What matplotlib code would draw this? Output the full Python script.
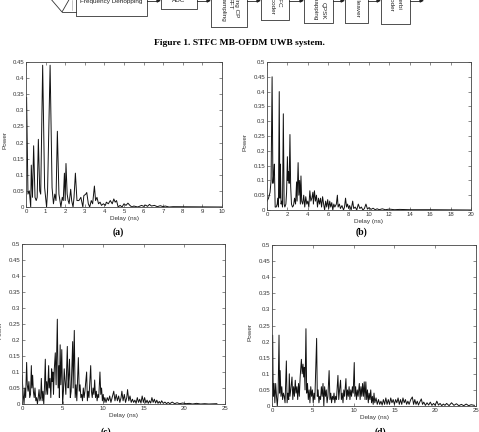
import numpy as np
import matplotlib
matplotlib.use("Agg")
import matplotlib.pyplot as plt
from matplotlib.patches import Rectangle, Polygon
from matplotlib.lines import Line2D

plt.rcParams['font.family'] = ['Liberation Sans', 'DejaVu Sans']

# ---- data: (delay ns, power) vertices ----
delay_a = [0.00, 0.03, 0.10, 0.17, 0.24, 0.27, 0.33, 0.39, 0.46, 0.52, 0.57, 0.63, 0.70, 0.75,
           0.85, 0.95, 1.00, 1.05, 1.10, 1.23, 1.33, 1.40, 1.47, 1.53, 1.60, 1.68, 1.78, 1.85,
           1.90, 1.96, 2.00, 2.04, 2.10, 2.15, 2.20, 2.28, 2.33, 2.40, 2.45, 2.52, 2.60, 2.70,
           2.80, 2.90, 2.95, 3.05, 3.10, 3.18, 3.25, 3.33, 3.40, 3.49, 3.55, 3.62, 3.70, 3.78,
           3.85, 3.95, 4.05, 4.10, 4.20, 4.30, 4.40, 4.48, 4.55, 4.62, 4.70, 4.80, 4.90, 5.00,
           5.10, 5.20, 5.30, 5.40, 5.50, 5.70, 5.90, 6.00, 6.10, 6.20, 6.30, 6.40, 6.55, 6.70,
           6.85, 7.00, 7.10, 7.30, 7.50, 10.0]
power_a = [0.30, 0.34, 0.04, 0.05, 0.00, 0.13, 0.03, 0.19, 0.03, 0.02, 0.03, 0.21, 0.05, 0.04,
           0.44, 0.06, 0.03, 0.00, 0.05, 0.44, 0.06, 0.01, 0.04, 0.02, 0.235, 0.04, 0.00, 0.03,
           0.02, 0.105, 0.02, 0.135, 0.04, 0.02, 0.01, 0.055, 0.02, 0.00, 0.03, 0.105, 0.02, 0.02,
           0.03, 0.00, 0.035, 0.04, 0.045, 0.01, 0.00, 0.02, 0.01, 0.065, 0.02, 0.03, 0.01, 0.015,
           0.005, 0.01, 0.005, 0.015, 0.01, 0.02, 0.01, 0.025, 0.015, 0.02, 0.0, 0.005, 0.0, 0.01,
           0.005, 0.012, 0.005, 0.0, 0.003, 0.0, 0.005, 0.002, 0.006, 0.002, 0.008, 0.003, 0.005, 0.001,
           0.004, 0.001, 0.003, 0.0, 0.001, 0.0]

delay_b = [0.0, 0.15, 0.3, 0.4, 0.5, 0.58, 0.65, 0.72, 0.8, 0.9, 1.0, 1.05, 1.12, 1.2, 1.26, 1.31,
           1.38, 1.45, 1.52, 1.6, 1.68, 1.75, 1.85, 1.92, 2.0, 2.05, 2.12, 2.17, 2.25, 2.32, 2.4,
           2.5, 2.6, 2.7, 2.8, 2.9, 2.95, 3.05, 3.12, 3.2, 3.27, 3.33, 3.4, 3.5, 3.6, 3.7, 3.8,
           3.9, 4.0, 4.1, 4.2, 4.3, 4.4, 4.5, 4.55, 4.65, 4.75, 4.85, 4.95, 5.05, 5.15, 5.25, 5.35,
           5.45, 5.55, 5.65, 5.75, 5.85, 5.95, 6.05, 6.15, 6.25, 6.35, 6.45, 6.55, 6.65, 6.8, 6.9,
           6.97, 7.1, 7.2, 7.35, 7.5, 7.6, 7.7, 7.8, 7.9, 8.0, 8.1, 8.25, 8.4, 8.5, 8.65, 8.8,
           8.95, 9.1, 9.25, 9.4, 9.55, 9.7, 9.85, 10.0, 10.2, 10.4, 10.6, 10.8, 11.0, 11.3, 11.6,
           12.0, 12.5, 13.0, 14.0, 16.0, 20.0]
power_b = [0.03, 0.04, 0.06, 0.10, 0.45, 0.09, 0.12, 0.155, 0.01, 0.01, 0.02, 0.04, 0.01, 0.40, 0.04, 0.155,
           0.02, 0.03, 0.01, 0.325, 0.02, 0.01, 0.02, 0.06, 0.18, 0.10, 0.13, 0.09, 0.255, 0.08, 0.02,
           0.01, 0.015, 0.04, 0.02, 0.095, 0.03, 0.16, 0.05, 0.10, 0.02, 0.115, 0.03, 0.02, 0.05, 0.01, 0.045,
           0.02, 0.03, 0.01, 0.065, 0.03, 0.04, 0.06, 0.02, 0.065, 0.03, 0.05, 0.01, 0.04, 0.02, 0.04, 0.01,
           0.045, 0.02, 0.0, 0.03, 0.01, 0.035, 0.005, 0.03, 0.01, 0.025, 0.0, 0.02, 0.01, 0.02, 0.05,
           0.01, 0.02, 0.005, 0.015, 0.0, 0.01, 0.04, 0.01, 0.02, 0.005, 0.015, 0.0, 0.03, 0.005, 0.01, 0.0,
           0.02, 0.005, 0.01, 0.0, 0.005, 0.02, 0.003, 0.008, 0.002, 0.006, 0.001, 0.004, 0.001, 0.004, 0.001,
           0.003, 0.001, 0.002, 0.001, 0.001, 0.0]

delay_c = [0.00, 0.15, 0.25, 0.35, 0.45, 0.57, 0.65, 0.75, 0.85, 0.95, 1.05, 1.15, 1.22, 1.31, 1.40,
           1.50, 1.60, 1.70, 1.80, 1.90, 2.00, 2.10, 2.20, 2.30, 2.38, 2.48, 2.58, 2.68, 2.78, 2.87,
           2.95, 3.05, 3.15, 3.28, 3.35, 3.45, 3.55, 3.65, 3.72, 3.80, 3.88, 3.98, 4.10, 4.20, 4.35,
           4.45, 4.55, 4.60, 4.70, 4.78, 4.90, 5.00, 5.10, 5.20, 5.30, 5.40, 5.58, 5.68, 5.75, 5.85,
           5.95, 6.05, 6.24, 6.30, 6.44, 6.55, 6.65, 6.75, 6.94, 7.05, 7.15, 7.25, 7.35, 7.45, 7.55,
           7.65, 7.75, 7.96, 8.05, 8.15, 8.25, 8.46, 8.55, 8.65, 8.75, 8.85, 8.95, 9.05, 9.15, 9.25,
           9.35, 9.45, 9.60, 9.70, 9.80, 9.90, 10.0, 10.1, 10.2, 10.35, 10.5, 10.65, 10.8, 10.95, 11.1,
           11.3, 11.45, 11.6, 11.75, 11.9, 12.05, 12.2, 12.3, 12.45, 12.6, 12.75, 12.9, 13.0, 13.15, 13.3,
           13.45, 13.6, 13.75, 13.9, 14.05, 14.2, 14.35, 14.5, 14.65, 14.8, 14.95, 15.1, 15.25, 15.4, 15.55,
           15.7, 15.85, 16.0, 16.15, 16.3, 16.45, 16.6, 16.75, 16.9, 17.05, 17.2, 17.4, 17.6, 17.8, 18.0,
           18.2, 18.5, 18.8, 19.1, 19.4, 19.8, 20.2, 20.6, 21.0, 21.5, 22.0, 22.5, 23.0, 24.0]
power_c = [0.09, 0.03, 0.00, 0.05, 0.02, 0.13, 0.06, 0.04, 0.07, 0.02, 0.03, 0.12, 0.05, 0.09, 0.04,
           0.02, 0.05, 0.01, 0.02, 0.00, 0.02, 0.045, 0.01, 0.02, 0.08, 0.01, 0.04, 0.00, 0.06, 0.14,
           0.03, 0.07, 0.03, 0.12, 0.05, 0.08, 0.02, 0.11, 0.07, 0.10, 0.03, 0.11, 0.16, 0.06, 0.265,
           0.05, 0.12, 0.02, 0.185, 0.06, 0.17, 0.00, 0.04, 0.11, 0.07, 0.03, 0.18, 0.05, 0.08, 0.14,
           0.02, 0.04, 0.195, 0.05, 0.23, 0.02, 0.06, 0.01, 0.145, 0.04, 0.06, 0.02, 0.03, 0.01, 0.05,
           0.02, 0.04, 0.10, 0.01, 0.04, 0.02, 0.12, 0.04, 0.02, 0.05, 0.03, 0.075, 0.02, 0.04, 0.01,
           0.03, 0.02, 0.10, 0.03, 0.05, 0.01, 0.03, 0.005, 0.02, 0.005, 0.02, 0.01, 0.025, 0.005, 0.02,
           0.04, 0.01, 0.03, 0.01, 0.025, 0.005, 0.02, 0.04, 0.01, 0.03, 0.005, 0.02, 0.045, 0.01, 0.025,
           0.005, 0.015, 0.005, 0.012, 0.002, 0.02, 0.005, 0.015, 0.003, 0.025, 0.005, 0.02, 0.003, 0.012, 0.002,
           0.01, 0.003, 0.02, 0.005, 0.015, 0.003, 0.012, 0.002, 0.008, 0.002, 0.01, 0.002, 0.006, 0.001, 0.005,
           0.001, 0.006, 0.001, 0.004, 0.001, 0.003, 0.001, 0.002, 0.0, 0.002, 0.0, 0.001, 0.0, 0.001]

delay_d = [0.00, 0.08, 0.15, 0.25, 0.35, 0.45, 0.55, 0.65, 0.75, 0.86, 0.93, 1.00, 1.10, 1.20, 1.30,
           1.40, 1.50, 1.60, 1.76, 1.85, 1.95, 2.05, 2.12, 2.20, 2.30, 2.45, 2.55, 2.65, 2.75, 2.85,
           2.95, 3.05, 3.15, 3.25, 3.35, 3.45, 3.60, 3.70, 3.80, 3.88, 3.96, 4.05, 4.16, 4.25, 4.35,
           4.45, 4.55, 4.65, 4.75, 4.85, 4.95, 5.05, 5.15, 5.25, 5.47, 5.55, 5.65, 5.75, 5.85, 5.95,
           6.05, 6.15, 6.25, 6.35, 6.45, 6.55, 6.65, 6.75, 6.85, 7.00, 7.10, 7.20, 7.30, 7.40, 7.50,
           7.60, 7.70, 7.80, 7.90, 8.08, 8.18, 8.28, 8.40, 8.50, 8.60, 8.70, 8.80, 8.90, 9.06, 9.15,
           9.25, 9.35, 9.45, 9.55, 9.65, 9.75, 9.85, 9.95, 10.08, 10.15, 10.25, 10.35, 10.45, 10.55, 10.70,
           10.80, 10.90, 11.00, 11.10, 11.20, 11.30, 11.40, 11.50, 11.60, 11.70, 11.80, 11.90, 12.00, 12.10,
           12.20, 12.30, 12.40, 12.50, 12.60, 12.75, 12.90, 13.05, 13.20, 13.35, 13.50, 13.65, 13.80, 13.95,
           14.10, 14.25, 14.40, 14.55, 14.70, 14.85, 15.00, 15.15, 15.30, 15.45, 15.60, 15.75, 15.90, 16.05,
           16.20, 16.35, 16.50, 16.65, 16.80, 17.00, 17.20, 17.35, 17.50, 17.65, 17.80, 17.95, 18.10, 18.30,
           18.45, 18.60, 18.80, 19.00, 19.20, 19.40, 19.60, 19.80, 20.00, 20.20, 20.40, 20.60, 20.80, 21.00,
           21.20, 21.40, 21.70, 22.00, 22.30, 22.60, 22.90, 23.20, 23.50, 23.80, 24.10, 24.40, 24.80]
power_d = [0.02, 0.22, 0.03, 0.07, 0.01, 0.07, 0.03, 0.00, 0.04, 0.22, 0.04, 0.11, 0.03, 0.06, 0.02,
           0.04, 0.03, 0.01, 0.14, 0.01, 0.04, 0.02, 0.10, 0.03, 0.05, 0.09, 0.02, 0.06, 0.03, 0.08,
           0.04, 0.06, 0.02, 0.07, 0.03, 0.09, 0.145, 0.10, 0.13, 0.09, 0.12, 0.05, 0.24, 0.04, 0.07,
           0.02, 0.05, 0.01, 0.06, 0.03, 0.05, 0.01, 0.04, 0.02, 0.21, 0.03, 0.05, 0.01, 0.03, 0.02,
           0.06, 0.03, 0.07, 0.00, 0.06, 0.03, 0.05, 0.01, 0.03, 0.11, 0.02, 0.04, 0.01, 0.03, 0.02,
           0.04, 0.01, 0.03, 0.02, 0.095, 0.02, 0.05, 0.08, 0.02, 0.04, 0.01, 0.05, 0.03, 0.085, 0.02,
           0.05, 0.03, 0.06, 0.02, 0.05, 0.03, 0.06, 0.04, 0.135, 0.03, 0.06, 0.02, 0.05, 0.03, 0.07,
           0.02, 0.06, 0.03, 0.07, 0.03, 0.075, 0.02, 0.075, 0.02, 0.05, 0.01, 0.04, 0.02, 0.05,
           0.01, 0.03, 0.005, 0.04, 0.01, 0.025, 0.005, 0.02, 0.005, 0.015, 0.003, 0.02, 0.005, 0.025,
           0.005, 0.02, 0.005, 0.025, 0.01, 0.02, 0.005, 0.02, 0.01, 0.025, 0.005, 0.02, 0.005, 0.025,
           0.01, 0.02, 0.005, 0.015, 0.005, 0.02, 0.028, 0.005, 0.02, 0.005, 0.015, 0.003, 0.012, 0.022,
           0.005, 0.012, 0.002, 0.01, 0.003, 0.012, 0.002, 0.008, 0.002, 0.015, 0.003, 0.008, 0.001, 0.006,
           0.002, 0.008, 0.001, 0.01, 0.002, 0.007, 0.001, 0.005, 0.001, 0.006, 0.001, 0.004, 0.002]

panels = [
    # (delay, power, xlim, xstep, ymax, label, rect in pixels: left, top, right, bottom)
    (delay_a, power_a, 10, 1, 0.45, '(a)', (26, 62, 222, 207)),
    (delay_b, power_b, 20, 2, 0.5, '(b)', (267, 62, 471, 210)),
    (delay_c, power_c, 25, 5, 0.5, '(c)', (22, 244, 225, 404)),
    (delay_d, power_d, 25, 5, 0.5, '(d)', (272, 245, 476, 406)),
]
sub_label_pos = [(118, 232), (362, 232), (106, 432), (380, 432)]

W, H = 479, 432
fig = plt.figure(figsize=(W / 100, H / 100), dpi=100)
fig.patch.set_facecolor('white')


def fx(px):
    return px / W


def fy(py):
    return 1 - py / H


for (d, p, xmax, xstep, ymax, lab, (l, t, r, b)), (lx, ly) in zip(panels, sub_label_pos):
    ax = fig.add_axes([fx(l), fy(b), (r - l) / W, (b - t) / H])
    ax.plot(d, p, color='#111111', linewidth=0.7)
    ax.set_xlim(0, xmax)
    ax.set_ylim(0, ymax)
    ax.set_xticks(np.arange(0, xmax + 0.001, xstep))
    ax.set_yticks(np.arange(0, ymax + 0.001, 0.05))
    ax.set_yticklabels(['0'] + ['%g' % v for v in np.arange(0.05, ymax + 0.001, 0.05)])
    ax.tick_params(direction='in', top=True, right=True, length=2, width=0.4,
                   labelsize=4.3, pad=1.5, colors='#333333')
    for s in ax.spines.values():
        s.set_linewidth(0.6)
        s.set_color('#444444')
    ax.set_xlabel('Delay (ns)', fontsize=4.6, color='#333333', labelpad=1.5)
    ax.set_ylabel('Power', fontsize=4.6, color='#333333')
    ax.yaxis.set_label_coords(-0.095, 0.46)
    fig.text(fx(lx), fy(ly), lab, ha='center', va='center', fontsize=7,
             family='Liberation Serif', weight='bold')

# ---- caption and the cut-off block diagram at the top ----
fig.text(fx(239), fy(43), 'Figure 1. STFC MB-OFDM UWB system.', ha='center', va='center',
         fontsize=6.8, family='Liberation Serif', weight='bold')

boxes = [(76, 147, 16), (161, 197, 9), (211, 247, 27), (261, 289, 20),
         (304, 333, 23), (345, 368, 23), (381, 410, 24)]
for x0, x1, yb in boxes:
    fig.add_artist(Rectangle((fx(x0), fy(yb)), (x1 - x0) / W, yb / H + 0.01,
                             fill=False, edgecolor='#333333', linewidth=0.6,
                             transform=fig.transFigure))

# antenna
fig.add_artist(Line2D([fx(50), fx(62), fx(70)], [fy(-2), fy(12), fy(-2)], color='#333333',
                      linewidth=0.6, transform=fig.transFigure))
fig.add_artist(Line2D([fx(62), fx(76)], [fy(12), fy(12)], color='#333333',
                      linewidth=0.6, transform=fig.transFigure))
fig.add_artist(Line2D([fx(72), fx(72)], [fy(0), fy(10)], color='#999999',
                      linewidth=0.4, transform=fig.transFigure))

# arrows along the top edge
for xa, xb in [(147, 160), (197, 210), (247, 260), (289, 303), (333, 344), (368, 380), (410, 423)]:
    fig.add_artist(Line2D([fx(xa), fx(xb - 2)], [fy(0.5), fy(0.5)], color='#222222',
                          linewidth=0.6, transform=fig.transFigure))
    fig.add_artist(Polygon([[fx(xb - 3), fy(-1)], [fx(xb), fy(0.5)], [fx(xb - 3), fy(2)]],
                           closed=True, color='#222222', transform=fig.transFigure))

fig.text(fx(111), fy(1), 'Frequency Dehopping', ha='center', va='center', fontsize=4.6,
         color='#222222')
fig.text(fx(179), fy(1), 'ADC', ha='center', va='center', fontsize=4.6, color='#222222')

# rotated block text: (x, y of text end, string)
vtexts = [(237, 17, 'Removing CP'), (230, 10, 'FFT'), (223, 22, 'Downsampling'),
          (279, 8, 'STFC'), (272, 15, 'Decoder'),
          (323, 20, 'QPSK'), (315, 20, 'Demapping'),
          (357, 18, 'Deinterleaver'),
          (399, 10, 'Viterbi'), (391, 12, 'Decoder')]
for x, y, s in vtexts:
    fig.text(fx(x), fy(y), s, rotation=-90, rotation_mode='anchor', ha='right', va='center',
             fontsize=4.6, color='#222222')

fig.savefig('out.png', dpi=100, facecolor='white')
